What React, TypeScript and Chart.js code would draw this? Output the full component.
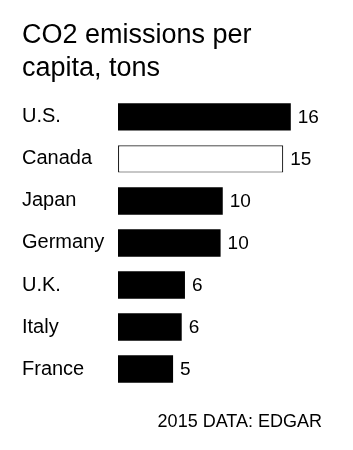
import React, { useEffect, useRef } from "react";
import { Chart, registerables } from "chart.js";

Chart.register(...registerables);

const countries = ["U.S.", "Canada", "Japan", "Germany", "U.K.", "Italy", "France"];
const emissions = [16.0, 15.3, 9.7, 9.5, 6.2, 5.9, 5.1];
const valueLabels = ["16", "15", "10", "10", "6", "6", "5"];
const highlight = ["U.S.", "Japan", "Germany", "U.K.", "Italy", "France"];
const titleLines = ["CO2 emissions per", "capita, tons"];
const footerText = "2015 DATA: EDGAR";

const FONT = "'Liberation Sans', Arial, Helvetica, sans-serif";

const labelsPlugin = {
  id: "valueLabels",
  afterDatasetsDraw(chart: any) {
    const { ctx } = chart;
    const meta = chart.getDatasetMeta(0);
    ctx.save();
    ctx.fillStyle = "#000";
    ctx.font = `19px ${FONT}`;
    ctx.textAlign = "left";
    ctx.textBaseline = "middle";
    meta.data.forEach((bar: any, i: number) => {
      ctx.fillText(valueLabels[i], bar.x + 7, bar.y + 1);
    });
    ctx.restore();
  },
  afterDraw(chart: any) {
    const { ctx, width, height } = chart;
    ctx.save();
    ctx.fillStyle = "#000";
    ctx.font = `18px ${FONT}`;
    ctx.textAlign = "right";
    ctx.textBaseline = "alphabetic";
    ctx.fillText(footerText, width - 23, height - 15);
    ctx.restore();
  },
};

export default function App() {
  const ref = useRef<HTMLCanvasElement>(null);
  useEffect(() => {
    if (!ref.current) return;
    const chart = new Chart(ref.current, {
      type: "bar",
      data: {
        labels: countries,
        datasets: [
          {
            data: emissions,
            backgroundColor: countries.map((c) => (highlight.includes(c) ? "#000" : "#fff")),
            borderColor: countries.map((c) => (highlight.includes(c) ? "#000" : "#222")),
            borderWidth: countries.map((c) => (highlight.includes(c) ? 0 : 1.2)),
            borderSkipped: false,
            barPercentage: 0.65,
            categoryPercentage: 1,
          },
        ],
      },
      options: {
        indexAxis: "y",
        animation: false,
        responsive: false,
        maintainAspectRatio: false,
        layout: { padding: { left: 14, right: 11, top: 0, bottom: 52 } },
        plugins: {
          legend: { display: false },
          tooltip: { enabled: false },
          title: {
            display: true,
            text: titleLines,
            align: "start",
            color: "#000",
            font: { family: FONT, size: 27, weight: "normal", lineHeight: 1.24 },
            padding: { top: 10.5, bottom: 10.5 },
          },
        },
        scales: {
          x: { display: false, min: 0, max: 20 },
          y: {
            grid: { display: false },
            border: { display: false },
            afterFit: (scale: any) => {
              scale.width = 96;
            },
            ticks: {
              crossAlign: "far",
              color: "#000",
              font: { family: FONT, size: 20 },
              padding: 0,
            },
          },
        },
      },
      plugins: [labelsPlugin],
    });
    return () => chart.destroy();
  }, []);
  return <canvas ref={ref} width={337} height={434} style={{ display: "block" }} />;
}
